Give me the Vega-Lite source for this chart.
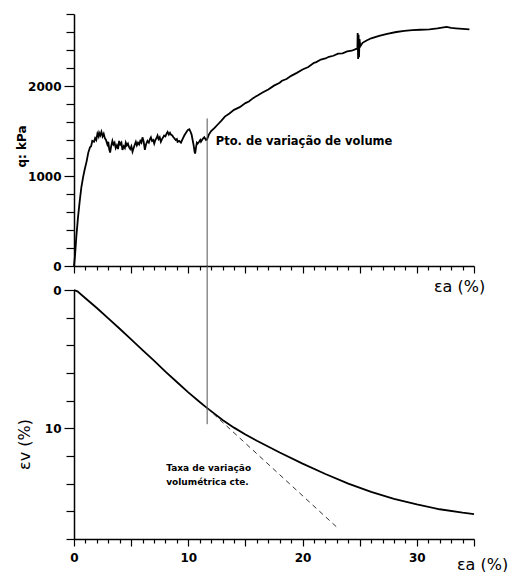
{
  "$schema": "https://vega.github.io/schema/vega-lite/v6.json",
  "padding": {"left": 15, "top": 8, "right": 0, "bottom": 0},
  "bounds": "flush",
  "spacing": 24,
  "config": {
    "view": {"stroke": null},
    "font": "DejaVu Sans",
    "axis": {
      "domainColor": "black", "domainWidth": 1.5, "tickColor": "black", "tickWidth": 1.2,
      "labelColor": "black", "titleColor": "black", "labelFont": "DejaVu Sans", "titleFont": "DejaVu Sans",
      "labelFontSize": 12, "labelFontWeight": "bold", "grid": false, "labelOverlap": false, "labelFlush": false, "tickCount": 100, "format": "d"
    }
  },
  "datasets": {
    "q": [
      {"ea":0,"q":0},{"ea":0.1,"q":130},{"ea":0.2,"q":320},{"ea":0.35,"q":540},{"ea":0.5,"q":720},{"ea":0.64,"q":870},{"ea":0.8,"q":990},{"ea":0.95,"q":1080},{"ea":1.1,"q":1160},{"ea":1.25,"q":1260},{"ea":1.4,"q":1320},{"ea":1.5,"q":1330},{"ea":1.6,"q":1390},{"ea":1.75,"q":1380},{"ea":1.85,"q":1420},{"ea":1.95,"q":1400},{"ea":2.05,"q":1470},{"ea":2.15,"q":1440},{"ea":2.2,"q":1480},{"ea":2.3,"q":1450},{"ea":2.4,"q":1490},{"ea":2.5,"q":1440},{"ea":2.6,"q":1470},{"ea":2.7,"q":1420},{"ea":2.8,"q":1400},{"ea":2.92,"q":1350},{"ea":3.0,"q":1380},{"ea":3.08,"q":1300},{"ea":3.16,"q":1260},{"ea":3.25,"q":1330},{"ea":3.36,"q":1390},{"ea":3.45,"q":1350},{"ea":3.55,"q":1370},{"ea":3.65,"q":1310},{"ea":3.75,"q":1340},{"ea":3.85,"q":1300},{"ea":3.95,"q":1390},{"ea":4.05,"q":1350},{"ea":4.15,"q":1370},{"ea":4.24,"q":1290},{"ea":4.35,"q":1330},{"ea":4.45,"q":1310},{"ea":4.53,"q":1370},{"ea":4.62,"q":1340},{"ea":4.72,"q":1360},{"ea":4.82,"q":1320},{"ea":4.92,"q":1300},{"ea":5.02,"q":1330},{"ea":5.12,"q":1270},{"ea":5.22,"q":1310},{"ea":5.32,"q":1350},{"ea":5.41,"q":1380},{"ea":5.5,"q":1340},{"ea":5.6,"q":1370},{"ea":5.7,"q":1350},{"ea":5.8,"q":1390},{"ea":5.9,"q":1370},{"ea":5.99,"q":1430},{"ea":6.1,"q":1380},{"ea":6.2,"q":1290},{"ea":6.3,"q":1350},{"ea":6.43,"q":1390},{"ea":6.55,"q":1370},{"ea":6.65,"q":1410},{"ea":6.73,"q":1430},{"ea":6.83,"q":1390},{"ea":6.93,"q":1400},{"ea":7.02,"q":1360},{"ea":7.12,"q":1400},{"ea":7.22,"q":1420},{"ea":7.31,"q":1450},{"ea":7.4,"q":1410},{"ea":7.5,"q":1430},{"ea":7.6,"q":1380},{"ea":7.7,"q":1410},{"ea":7.8,"q":1430},{"ea":7.89,"q":1450},{"ea":8.0,"q":1440},{"ea":8.1,"q":1470},{"ea":8.19,"q":1490},{"ea":8.3,"q":1460},{"ea":8.4,"q":1480},{"ea":8.48,"q":1460},{"ea":8.6,"q":1450},{"ea":8.7,"q":1430},{"ea":8.77,"q":1420},{"ea":8.9,"q":1400},{"ea":9.0,"q":1410},{"ea":9.06,"q":1380},{"ea":9.2,"q":1390},{"ea":9.36,"q":1370},{"ea":9.5,"q":1410},{"ea":9.65,"q":1450},{"ea":9.8,"q":1480},{"ea":9.95,"q":1510},{"ea":10.09,"q":1520},{"ea":10.2,"q":1490},{"ea":10.29,"q":1460},{"ea":10.38,"q":1400},{"ea":10.47,"q":1340},{"ea":10.55,"q":1270},{"ea":10.6,"q":1250},{"ea":10.68,"q":1320},{"ea":10.75,"q":1370},{"ea":10.82,"q":1360},{"ea":10.95,"q":1380},{"ea":11.05,"q":1400},{"ea":11.11,"q":1380},{"ea":11.25,"q":1410},{"ea":11.4,"q":1430},{"ea":11.55,"q":1400},{"ea":11.65,"q":1410},{"ea":11.8,"q":1460},{"ea":12.0,"q":1500},{"ea":12.3,"q":1535},{"ea":12.6,"q":1575},{"ea":12.9,"q":1615},{"ea":13.2,"q":1660},{"ea":13.6,"q":1695},{"ea":14.0,"q":1735},{"ea":14.5,"q":1765},{"ea":15.0,"q":1810},{"ea":15.3,"q":1828},{"ea":15.7,"q":1868},{"ea":16.1,"q":1897},{"ea":16.5,"q":1928},{"ea":17.0,"q":1962},{"ea":17.5,"q":2004},{"ea":18.0,"q":2036},{"ea":18.2,"q":2058},{"ea":18.6,"q":2077},{"ea":19.0,"q":2113},{"ea":19.5,"q":2146},{"ea":20.0,"q":2184},{"ea":20.5,"q":2211},{"ea":21.0,"q":2258},{"ea":21.2,"q":2266},{"ea":21.6,"q":2294},{"ea":22.0,"q":2306},{"ea":22.3,"q":2325},{"ea":22.7,"q":2336},{"ea":23.1,"q":2360},{"ea":23.5,"q":2362},{"ea":23.9,"q":2384},{"ea":24.3,"q":2392},{"ea":24.7,"q":2412},{"ea":24.8,"q":2420},{"ea":24.82,"q":2590},{"ea":24.86,"q":2300},{"ea":24.9,"q":2570},{"ea":24.94,"q":2320},{"ea":24.98,"q":2520},{"ea":25.05,"q":2440},{"ea":25.25,"q":2480},{"ea":25.6,"q":2505},{"ea":26.0,"q":2530},{"ea":26.7,"q":2556},{"ea":27.4,"q":2580},{"ea":28.2,"q":2600},{"ea":28.9,"q":2612},{"ea":29.6,"q":2620},{"ea":30.3,"q":2625},{"ea":31.1,"q":2630},{"ea":31.8,"q":2640},{"ea":32.6,"q":2656},{"ea":33.0,"q":2645},{"ea":33.4,"q":2641},{"ea":34.0,"q":2635},{"ea":34.6,"q":2630}
    ],
    "ev": [
      {"ea":0,"ev":0},{"ea":0.3,"ev":0.1},{"ea":1,"ev":0.6},{"ea":2,"ev":1.3},{"ea":3,"ev":2.05},{"ea":4,"ev":2.8},{"ea":5,"ev":3.57},{"ea":6,"ev":4.35},{"ea":7,"ev":5.1},{"ea":8,"ev":5.9},{"ea":9,"ev":6.65},{"ea":10,"ev":7.4},{"ea":11,"ev":8.1},{"ea":11.6,"ev":8.5},{"ea":13,"ev":9.4},{"ea":14,"ev":9.95},{"ea":15,"ev":10.45},{"ea":16,"ev":10.9},{"ea":18,"ev":11.75},{"ea":20,"ev":12.55},{"ea":22,"ev":13.3},{"ea":24,"ev":14.0},{"ea":26,"ev":14.6},{"ea":28,"ev":15.1},{"ea":30,"ev":15.5},{"ea":32,"ev":15.85},{"ea":34,"ev":16.1},{"ea":35,"ev":16.2}
    ],
    "dash": [{"ea":11.6,"ev":8.5},{"ea":23.2,"ev":17.3}]
  },
  "vconcat": [
    {
      "width": 400, "height": 252,
      "layer": [
        {
          "data": {"name": "q"},
          "mark": {"type": "line", "color": "black", "strokeWidth": 1.8},
          "encoding": {
            "x": {"field": "ea", "type": "quantitative", "scale": {"domain": [0, 35], "nice": false},
              "axis": {"values": [0,1,2,3,4,5,6,7,8,9,10,11,12,13,14,15,16,17,18,19,20,21,22,23,24,25,26,27,28,29,30,31,32,33,34,35],
                "labels": false, "tickCount": 100, "tickSize": {"condition": {"test": "datum.value % 5 === 0", "value": 7}, "value": 4},
                "title": "εa (%)", "titleFontSize": 16, "titleFontWeight": "normal", "titleX": 385, "titleY": 20, "titleAlign": "center", "titleBaseline": "middle"}},
            "y": {"field": "q", "type": "quantitative", "scale": {"domain": [0, 2800], "nice": false},
              "axis": {"values": [0,200,400,600,800,1000,1200,1400,1600,1800,2000,2200,2400,2600,2800],
                "labelExpr": "datum.value % 1000 === 0 ? datum.label : ''", "labelPadding": 3, "tickCount": 100, "labelOverlap": false,
                "format": "d",
                "tickSize": {"condition": {"test": "datum.value % 1000 === 0", "value": 10}, "value": 8},
                "title": "q: kPa", "titleFontSize": 12, "titleFontWeight": "bold", "titleX": -53, "titleY": 132, "titleAlign": "center", "titleBaseline": "middle"}}
          }
        },
        {
          "data": {"values": [{"ea": 11.65, "y1": 1640, "y2": 0}]},
          "mark": {"type": "rule", "color": "#555555", "strokeWidth": 1},
          "encoding": {
            "x": {"field": "ea", "type": "quantitative"},
            "y": {"field": "y1", "type": "quantitative"},
            "y2": {"field": "y2"}
          }
        },
        {
          "data": {"values": [{"ea": 12.4, "q": 1378, "t": "Pto. de variação de volume"}]},
          "mark": {"type": "text", "align": "left", "baseline": "middle", "font": "DejaVu Sans", "fontSize": 11.5, "fontWeight": "bold", "color": "black"},
          "encoding": {
            "x": {"field": "ea", "type": "quantitative"},
            "y": {"field": "q", "type": "quantitative"},
            "text": {"field": "t"}
          }
        }
      ]
    },
    {
      "width": 400, "height": 249,
      "layer": [
        {
          "data": {"name": "ev"},
          "mark": {"type": "line", "color": "black", "strokeWidth": 1.8},
          "encoding": {
            "x": {"field": "ea", "type": "quantitative", "scale": {"domain": [0, 35], "nice": false},
              "axis": {"values": [0,1,2,3,4,5,6,7,8,9,10,11,12,13,14,15,16,17,18,19,20,21,22,23,24,25,26,27,28,29,30,31,32,33,34,35],
                "labelExpr": "datum.value % 10 === 0 ? datum.label : ''", "labelPadding": 6, "tickCount": 100, "labelOverlap": false,
                "format": "d",
                "tickSize": {"condition": {"test": "datum.value % 5 === 0", "value": 7}, "value": 4},
                "title": "εa (%)", "titleFontSize": 16, "titleFontWeight": "normal", "titleX": 408, "titleY": 25, "titleAlign": "center", "titleBaseline": "middle"}},
            "y": {"field": "ev", "type": "quantitative", "scale": {"domain": [0, 18], "nice": false, "reverse": true},
              "axis": {"values": [0,2,4,6,8,10,12,14,16,18],
                "labelExpr": "datum.value % 10 === 0 ? datum.label : ''", "labelPadding": 3, "tickCount": 100, "labelOverlap": false,
                "format": "d",
                "tickSize": {"condition": {"test": "datum.value % 10 === 0", "value": 10}, "value": 8},
                "title": "εv (%)", "titleFontSize": 16, "titleFontWeight": "normal", "titleX": -50, "titleY": 154, "titleAlign": "center", "titleBaseline": "middle"}}
          }
        },
        {
          "data": {"name": "dash"},
          "mark": {"type": "line", "color": "#333333", "strokeWidth": 1, "strokeDash": [5, 4]},
          "encoding": {
            "x": {"field": "ea", "type": "quantitative"},
            "y": {"field": "ev", "type": "quantitative"}
          }
        },
        {
          "data": {"values": [{"ea": 11.65, "y1": -1.8, "y2": 9.7}]},
          "mark": {"type": "rule", "color": "#555555", "strokeWidth": 1},
          "encoding": {
            "x": {"field": "ea", "type": "quantitative"},
            "y": {"field": "y1", "type": "quantitative"},
            "y2": {"field": "y2"}
          }
        },
        {
          "data": {"values": [{"ea": 8.07, "ev": 12.9, "t": "Taxa de variação"}, {"ea": 8.07, "ev": 13.85, "t": "volumétrica cte."}]},
          "mark": {"type": "text", "align": "left", "baseline": "middle", "font": "DejaVu Sans", "fontSize": 9, "fontWeight": "bold", "color": "black"},
          "encoding": {
            "x": {"field": "ea", "type": "quantitative"},
            "y": {"field": "ev", "type": "quantitative"},
            "text": {"field": "t"}
          }
        }
      ]
    }
  ]
}
